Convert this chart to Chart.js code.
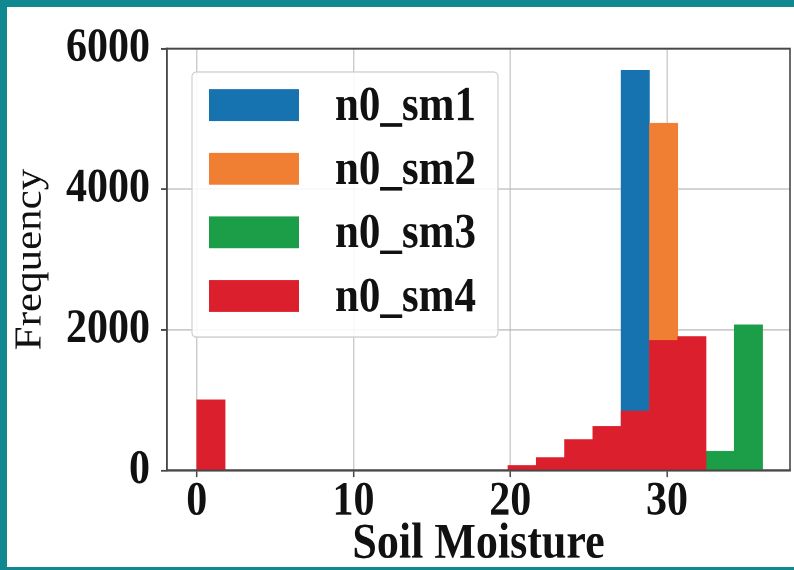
<!DOCTYPE html>
<html>
<head>
<meta charset="utf-8">
<script src="https://cdn.jsdelivr.net/npm/chart.js@4.4.1/dist/chart.umd.min.js"></script>
<style>
html,body{margin:0;padding:0;background:#fff;}
#wrap{position:relative;width:794px;height:570px;overflow:hidden;background:#fff;}
#c{position:absolute;left:0;top:0;}
#frame{position:absolute;left:0;top:0;width:794px;height:570px;box-sizing:border-box;
  border-left:7px solid #10888f;border-top:7px solid #10888f;border-bottom:3px solid #10888f;pointer-events:none;}
</style>
</head>
<body>
<div id="wrap">
  <canvas id="c" width="794" height="504" style="width:794px;height:570px"></canvas>
  <div id="frame"></div>
</div>
<script>
// ---- data (histogram bin centres in soil moisture units, counts) ----
const seriesNames = ['n0_sm1', 'n0_sm2', 'n0_sm3', 'n0_sm4'];
const seriesColors = ['#1772b0', '#f07f33', '#1c9e48', '#dc1f2d'];

const sm1X = [27.978];
const sm1Y = [5690];

const sm2X = [29.783];
const sm2Y = [4940];

const sm3X = [33.393, 35.198];
const sm3Y = [272, 2071];

const sm4X = [0.903, 20.758, 22.563, 24.368, 26.173, 27.978, 29.783, 31.588];
const sm4Y = [1005, 71, 184, 440, 628, 845, 1850, 1905];

const xTicks = [0, 10, 20, 30];
const yTicks = [0, 2000, 4000, 6000];
const xTickLabels = ['0', '10', '20', '30'];
const yTickLabels = ['0', '2000', '4000', '6000'];

const xLabel = 'Soil Moisture';
const yLabel = 'Frequency';

// ---- styling ----
const SERIF = '"Liberation Serif", "Times New Roman", serif';
const spineColor = '#474747';
const gridColor = 'rgba(176,176,176,0.65)';
const textColor = '#111111';

function pairs(xs, ys) { return xs.map((x, i) => ({ x: x, y: ys[i] })); }

const seriesX = [sm1X, sm2X, sm3X, sm4X];
const seriesY = [sm1Y, sm2Y, sm3Y, sm4Y];

const datasets = seriesNames.map((name, i) => ({
  label: name,
  data: pairs(seriesX[i], seriesY[i]),
  backgroundColor: seriesColors[i],
  borderWidth: 0,
  grouped: false,
  barPercentage: 1,
  categoryPercentage: 1,
  order: seriesNames.length - i   // later series drawn on top (like matplotlib)
}));

const framePlugin = {
  id: 'framePlugin',
  afterDraw(chart) {
    const ctx = chart.ctx;
    const a = chart.chartArea;
    ctx.save();
    // four spines
    ctx.strokeStyle = spineColor;
    ctx.lineWidth = 1.6;
    ctx.strokeRect(a.left, a.top, a.right - a.left, a.bottom - a.top);

    // legend box (upper left, matplotlib style)
    const bx = 192, by = 63.7, bw = 306, bh = 234.3;
    ctx.beginPath();
    ctx.roundRect(bx, by, bw, bh, 4);
    ctx.fillStyle = 'rgba(255,255,255,0.88)';
    ctx.fill();
    ctx.strokeStyle = '#cfcfcf';
    ctx.lineWidth = 1.2;
    ctx.stroke();

    ctx.font = 'bold 43px ' + SERIF;
    ctx.textBaseline = 'alphabetic';
    ctx.textAlign = 'left';
    seriesNames.forEach((n, i) => {
      const cy = 92.9 + i * 56.27;
      ctx.fillStyle = seriesColors[i];
      ctx.fillRect(209, cy - 14.15, 90, 28.3);
      ctx.fillStyle = textColor;
      ctx.fillText(n, 335, cy + 13.2);
    });
    ctx.restore();
  }
};

new Chart(document.getElementById('c'), {
  type: 'bar',
  data: { datasets: datasets },
  options: {
    responsive: false,
    devicePixelRatio: 2,
    animation: false,
    layout: { padding: { top: 43, right: 4, bottom: 0, left: 0 } },
    plugins: { legend: { display: false }, tooltip: { enabled: false } },
    scales: {
      x: {
        type: 'linear',
        min: -1.9,
        max: 37.85,
        offset: false,
        z: 1,
        afterBuildTicks: s => { s.ticks = xTicks.map(v => ({ value: v })); },
        afterFit: s => { s.height = 88; },
        grid: { offset: false, color: gridColor, lineWidth: 1.4, drawTicks: true,
                tickLength: 6, tickColor: spineColor, tickWidth: 1.5 },
        border: { display: true, color: spineColor, width: 1.6 },
        ticks: { color: textColor, padding: 1, maxRotation: 0, autoSkip: false,
                 callback: (v, i) => xTickLabels[i],
                 font: { family: SERIF, size: 42, weight: 'bold', lineHeight: 1 } },
        title: { display: true, text: xLabel, color: textColor, padding: { top: 0, bottom: -2 },
                 font: { family: SERIF, size: 44, weight: 'bold', lineHeight: 1.1 } }
      },
      y: {
        type: 'linear',
        min: 0,
        max: 6000,
        z: 1,
        afterBuildTicks: s => { s.ticks = yTicks.map(v => ({ value: v })); },
        afterFit: s => { s.width = 167; },
        grid: { color: gridColor, lineWidth: 1.4, drawTicks: true,
                tickLength: 6, tickColor: spineColor, tickWidth: 1.5 },
        border: { display: true, color: spineColor, width: 1.6 },
        ticks: { color: textColor, padding: 11, autoSkip: false,
                 callback: (v, i) => yTickLabels[i],
                 font: { family: SERIF, size: 42, weight: 'bold' } },
        title: { display: true, text: yLabel, color: textColor, padding: { top: 7.5, bottom: 0 },
                 font: { family: SERIF, size: 38, weight: 'normal', lineHeight: 1.2 } }
      }
    }
  },
  plugins: [framePlugin]
});
</script>
</body>
</html>
